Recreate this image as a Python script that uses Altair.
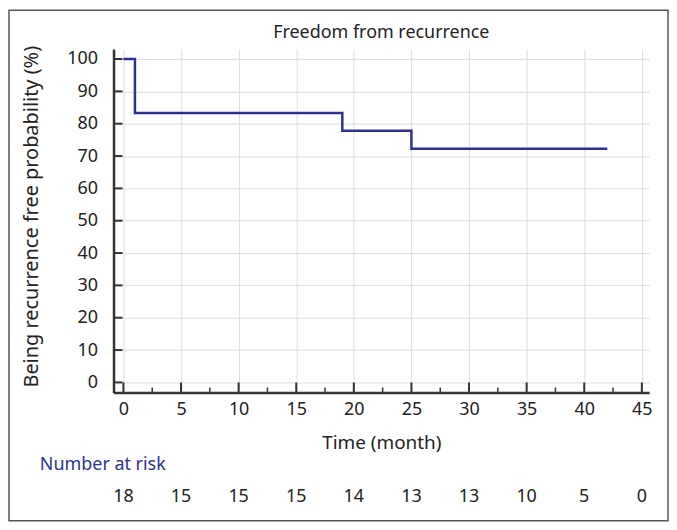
import altair as alt
import pandas as pd

# Kaplan-Meier step curve
km_time = [0, 1, 19, 25, 42]
km_surv = [100.0, 83.33, 77.78, 72.22, 72.22]

# Number at risk
risk_time = [0, 5, 10, 15, 20, 25, 30, 35, 40, 45]
risk_n = [18, 15, 15, 15, 14, 13, 13, 10, 5, 0]

y_ticks = [0, 10, 20, 30, 40, 50, 60, 70, 80, 90, 100]
x_major = [0, 5, 10, 15, 20, 25, 30, 35, 40, 45]
x_minor = [2.5, 7.5, 12.5, 17.5, 22.5, 27.5, 32.5, 37.5, 42.5]

FONT = "Noto Sans"
NAVY = "#2e3192"
TXT = "#222222"
W, H = 538, 345
PAD_L, PAD_T, PAD_R, PAD_B = 106, 40, 20, 130

km = pd.DataFrame({"t": km_time, "s": km_surv})
risk = pd.DataFrame({"t": risk_time, "n": [str(v) for v in risk_n]})
yt = pd.DataFrame({"s": y_ticks})
xmaj = pd.DataFrame({"t": x_major})
xmin = pd.DataFrame({"t": x_minor})

xscale = alt.Scale(domain=[-0.86, 45.63], nice=False, zero=False)
yscale = alt.Scale(domain=[-3.1, 103.1], nice=False, zero=False)

xaxis = alt.Axis(
    values=x_major, grid=True, tickSize=0, labelPadding=8,
    labelOverlap=False, labelFlush=False,
    title="Time (month)", titleY=50, titleBaseline="middle",
    titleAnchor="middle", titleFontSize=19)
yaxis = alt.Axis(
    values=y_ticks, grid=True, tickSize=0, labelPadding=16,
    labelOverlap=False, labelFlush=False,
    title="Being recurrence free probability (%)", titleX=-82,
    titleY=168, titleBaseline="middle", titleAlign="center",
    titleAngle=-90, titleFontSize=20)

X = alt.X("t:Q", scale=xscale, axis=xaxis)
Y = alt.Y("s:Q", scale=yscale, axis=yaxis)

line = alt.Chart(km).mark_line(
    interpolate="step-after", color=NAVY, strokeWidth=2.5, clip=False
).encode(x=X, y=Y)

ytick_rules = alt.Chart(yt).mark_rule(color="#333333", strokeWidth=2).encode(
    y=Y, x=alt.value(0), x2=alt.value(9)
)
xmaj_rules = alt.Chart(xmaj).mark_rule(color="#333333", strokeWidth=2).encode(
    x=X, y=alt.value(H), y2=alt.value(H - 10)
)
xmin_rules = alt.Chart(xmin).mark_rule(color="#333333", strokeWidth=1.5).encode(
    x=X, y=alt.value(H), y2=alt.value(H - 5)
)

risk_text = alt.Chart(risk).mark_text(
    font=FONT, fontSize=18, color=TXT, baseline="middle", align="center"
).encode(x=X, y=alt.value(450), text="n:N")

risk_label = alt.Chart(pd.DataFrame({"l": ["Number at risk"]})).mark_text(
    font=FONT, fontSize=18, color=NAVY, baseline="middle", align="left"
).encode(x=alt.value(-74), y=alt.value(418), text="l:N")

title = alt.Chart(pd.DataFrame({"l": ["Freedom from recurrence"]})).mark_text(
    font=FONT, fontSize=18, color=TXT, baseline="middle", align="center"
).encode(x=alt.value(W / 2), y=alt.value(-16), text="l:N")

frame = alt.Chart(pd.DataFrame({"f": [1]})).mark_rect(
    fill=None, fillOpacity=0, stroke="#555555", strokeWidth=1.5
).encode(
    x=alt.value(-PAD_L + 1), x2=alt.value(W + PAD_R - 1),
    y=alt.value(-PAD_T + 1), y2=alt.value(H + PAD_B - 1),
)

chart = alt.layer(
    line, ytick_rules, xmaj_rules, xmin_rules, risk_text, risk_label, title,
    frame
).properties(
    width=W, height=H,
    autosize=alt.AutoSizeParams(type="none"),
    padding={"left": PAD_L, "top": PAD_T, "right": PAD_R, "bottom": PAD_B},
).configure_view(stroke=None).configure_axis(
    domainColor="#333333", domainWidth=2.5, gridColor="#dddddd",
    gridWidth=1, labelFont=FONT, labelFontSize=18, labelColor=TXT,
    titleFont=FONT, titleFontWeight="normal", titleColor=TXT,
)

chart.save("out.html", embed_options={"renderer": "svg", "actions": False})
